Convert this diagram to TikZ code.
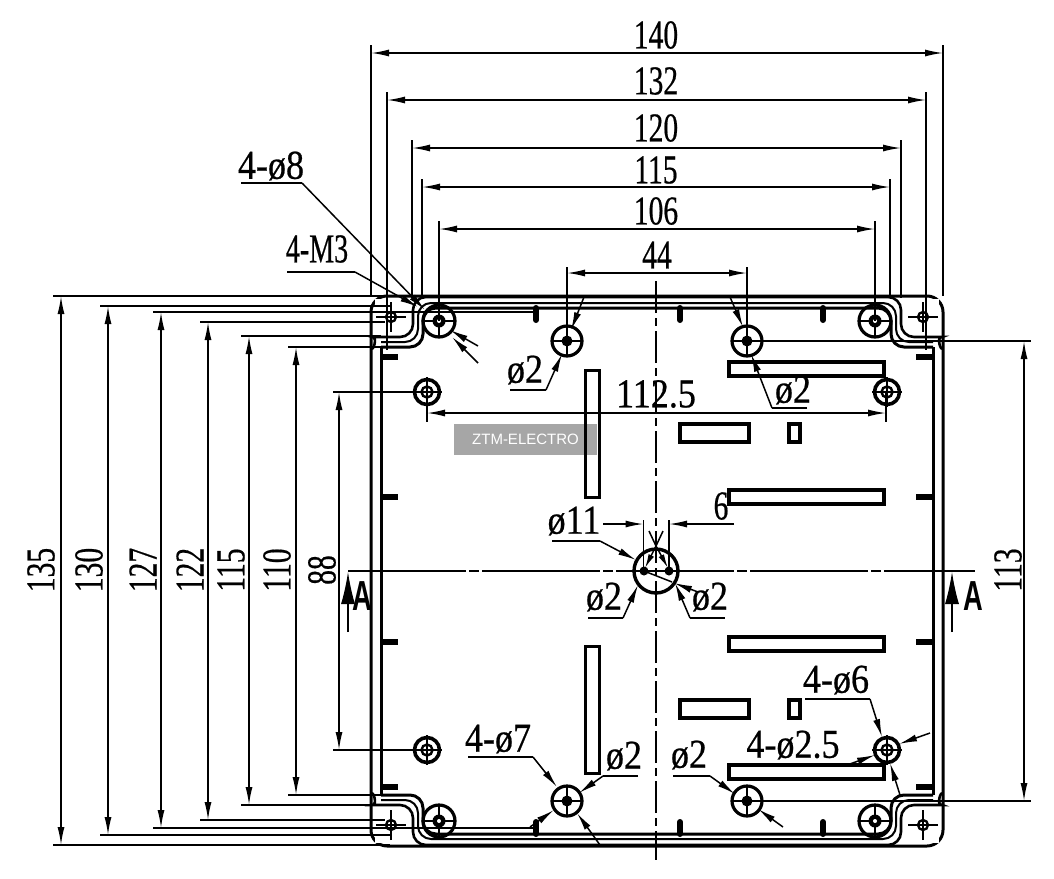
\documentclass[tikz,border=0pt]{standalone}
\usepackage{fontspec}
\setmainfont{Liberation Serif}
\newfontfamily\labelfont{Liberation Sans}
\newfontfamily\dimfont[FakeBold=0.6]{Liberation Serif}
\usetikzlibrary{arrows.meta}

\begin{document}
\begin{tikzpicture}[
  x=1pt, y=-1pt,
  every node/.style={inner sep=0pt},
  dimtext/.style={
  font=\dimfont\fontsize{41}{41}\selectfont,
  xscale=0.72},
  dimwide/.style={
  font=\dimfont\fontsize{41}{41}\selectfont,
  xscale=0.88},
  dimtextv/.style={
  font=\dimfont\fontsize{41}{41}\selectfont,
  rotate=90, xscale=0.72},
  dimline/.style={
  line width=1.5pt,
  {Latex[length=18pt, width=7pt]}-{Latex[length=18pt, width=7pt]}
  },
  extline/.style={
  line width=1.4pt
  },
  leader/.style={
  line width=1.5pt
  },
  leaderarrow/.style={
  line width=1.5pt,
  -{Latex[length=18pt, width=7pt]}
  },
  wall/.style={
  line width=3pt
  },
  lidline/.style={
  line width=2pt,
  rounded corners=13pt
  },
  slot/.style={
  draw,
  fill=white,
  line width=3.2pt
  },
  stub/.style={
  line width=6pt,
  line cap=round
  },
  center line/.style={
  line width=1.4pt,
  dash pattern=on 32pt off 5pt on 8pt off 5pt
  }]

	\useasboundingbox (0,0) rectangle (1054,878);

	% Watermark
	\node [fill=gray!70, text=white, minimum width=143pt, minimum height=31pt, font=\labelfont\fontsize{15}{15}\selectfont] at (525.5,439.5) (mark) {ZTM-ELECTRO};

	% Box
	\draw[wall, rounded corners=16pt] (371,296) rectangle (943,846);

	% Corners
	\foreach \sx in {-1,1} {
	\foreach \sy in {-1,1} {
	\begin{scope}[shift={(657,571)}, xscale=\sx, yscale=\sy]
		\fill[white] (-282,-234) rectangle (-246,-272);
		\draw[lidline, line width=2.6pt] (0,-274) -- (-244,-274) -- (-244,-234) -- (-272,-234) to[out=180, in=-90] (-285,-224);
		\draw[lidline] (0,-268) -- (-239,-268) -- (-239,-229) -- (-276,-229);
		\draw[lidline, line width=3pt] (0,-263) -- (-234,-263) -- (-234,-224) -- (-276,-224);
		\draw[wall] (-276,-224) -- (-276,0);
		% Corner hole
		\draw[line width=2.3pt] (-266,-254) circle (5);
		\draw[line width=0.9pt] (-266,-254) circle (1.5);
		\draw[line width=1.3pt] (-281,-254) -- (-251,-254) (-266,-269) -- (-266,-239);
		% Screw post
		\draw[line width=3.2pt] (-218,-250) circle (16);
		\draw[line width=1.2pt] (-234,-250) -- (-202,-250) (-218,-266) -- (-218,-234);
		\fill (-218,-250) circle (6.5);
		\fill[white] (-218,-250) circle (2);
		% Mount hole
		\draw[line width=3.6pt] (-230,-179) circle (12.5);
		\draw[line width=2.4pt] (-230,-179) circle (5.5);
		\draw[line width=0.8pt] (-230,-179) circle (1.5);
		\draw[line width=1.2pt] (-230,-194) -- (-230,-164) (-245,-179) -- (-215,-179);
		% Pin hole
		\draw[line width=3.2pt] (-90,-230) circle (15);
		\fill (-90,-230) circle (5.5);
		\draw[line width=1.4pt] (-105,-230) -- (-75,-230) (-90,-245) -- (-90,-215);
	\end{scope}
	}
	}

	% Slots
	\node [slot, fill=none, minimum width=14pt, minimum height=127pt, anchor=north west] at (584,369) (slot1) {};
	\node [slot, minimum width=14pt, minimum height=127pt, anchor=north west] at (584,645) (slot2) {};
	\foreach \yy in {362,490,637,765} \draw[slot] (729,\yy) rectangle (884,\yy+14);
	\foreach \yy in {424,700} {
	\draw[slot] (680,\yy) rectangle (749,\yy+18);
	\draw[slot] (789,\yy) rectangle (800,\yy+18);
	}

	% Stubs
	\foreach \xx in {536,680,823} {
	\draw[stub] (\xx,308) -- (\xx,320);
	\draw[stub] (\xx,834) -- (\xx,822);
	}
	\foreach \yy in {357,497,642,787} {
	\draw[stub, line cap=butt] (380,\yy) -- (398,\yy);
	\draw[stub, line cap=butt] (934,\yy) -- (916,\yy);
	}

	% Centre hole
	\draw[line width=3.4pt] (656,571) circle (22);
	\fill (644,571) circle (4.5);
	\fill (669,571) circle (4.5);

	% Centre lines
	\draw[center line] (656,281) -- (656,860);
	\draw[center line, dash pattern=on 118pt off 3pt on 10pt off 3pt] (348,571) -- (975,571);

	% Section marks
	\draw[line width=1.2pt, -{Latex[length=32pt, width=14pt]}] (348,632) -- (348,572);
	\draw[line width=1.2pt, -{Latex[length=32pt, width=14pt]}] (952,632) -- (952,572);
	\node [font=\labelfont\bfseries\fontsize{42}{42}\selectfont, xscale=0.65] at (362,596) (sectionL) {A};
	\node [font=\labelfont\bfseries\fontsize{42}{42}\selectfont, xscale=0.65] at (973,596) (sectionR) {A};

	% Top dimensions
	\foreach \val/\yy/\yt/\xa/\xb/\ye in {140/53/35/371/943/296, 132/100/81/387/926/350, 120/148/128/412/901/298, 115/187/170/422/890/298, 106/229/211/439/875/321} {
	\draw[extline] (\xa,\yy-8) -- (\xa,\ye);
	\draw[extline] (\xb,\yy-8) -- (\xb,\ye);
	\draw[dimline] (\xa,\yy) -- (\xb,\yy);
	\node [dimtext] at (656,\yt) (top\val) {\val};
	}
	\draw[extline] (567,267) -- (567,340);
	\draw[extline] (747,267) -- (747,340);
	\draw[dimline] (567,273) -- (747,273);
	\node [dimtext] at (657,255) (top44) {44};

	% Left dimensions
	\foreach \val/\xx/\xt/\ya/\yb/\xe/\xf in {135/61/41/296/845/390/390, 130/108/89/306/835/390/390, 127/161/143/312/828/533/533, 122/208/190/322/820/385/385, 115/249/231/336/805/381/381, 110/296/277/347/795/385/385} {
	\draw[extline] (\xx-8,\ya) -- (\xe,\ya);
	\draw[extline] (\xx-8,\yb) -- (\xf,\yb);
	\draw[dimline] (\xx,\ya) -- (\xx,\yb);
	\node [dimtextv] at (\xt,570) (left\val) {\val};
	}
	\draw[extline] (333,392) -- (414,392);
	\draw[extline] (333,750) -- (414,750);
	\draw[dimline] (339,392) -- (339,750);
	\node [dimtextv] at (322,570) (left88) {88};

	% Right dimension
	\draw[extline] (747,341) -- (1031,341);
	\draw[extline] (746,801) -- (1031,801);
	\draw[dimline] (1024,341) -- (1024,801);
	\node [dimtextv] at (1008,570) (right113) {113};

	% Width between mount holes
	\draw[extline] (427,391) -- (427,422);
	\draw[extline] (886,391) -- (886,422);
	\draw[dimline] (427,413) -- (886,413);
	\node [dimwide] at (656,394) (mid112) {112.5};

	% Top left callouts
	\node [dimwide] at (271,166) (d8) {4-ø8};
	\draw[leader] (241,183) -- (302,183);
	\draw[leaderarrow] (302,183) -- (425,310);
	\node [dimtext, xscale=0.95] at (317,249) (m3) {4-M3};
	\draw[leader] (287,272) -- (355,272);
	\draw[leaderarrow] (355,272) -- (418,307);
	\draw[leaderarrow] (478,346) -- (450,330);
	\draw[leaderarrow] (478,363) -- (452,337);

	% Top pin holes
	\node [dimwide] at (525,370) (pinA) {ø2};
	\draw[leader] (510,390) -- (546,390);
	\draw[leaderarrow] (546,390) -- (562,354);
	\draw[leaderarrow] (584,297) -- (571,330);
	\node [dimwide] at (793,390) (pinB) {ø2};
	\draw[leader] (807,408) -- (772,408);
	\draw[leaderarrow] (772,408) -- (751,354);
	\draw[leaderarrow] (730,297) -- (743,327);

	% Centre callouts
	\node [dimwide] at (574,521) (d11) {ø11};
	\draw[leader] (552,541) -- (600,541);
	\draw[leaderarrow] (600,541) -- (636,560);
	\node [dimtext] at (721,506) (w6) {6};
	\draw[extline] (643.5,520) -- (643.5,571);
	\draw[extline] (669,520) -- (669,571);
	\draw[leaderarrow] (603,524) -- (643.5,524);
	\draw[leaderarrow] (734,524) -- (669,524);
	\draw[leader] (649,531) -- (656,546) -- (663,531);
	\draw[leaderarrow, -{Latex[length=14pt, width=6pt]}] (656,546) -- (645,568);
	\draw[leaderarrow, -{Latex[length=14pt, width=6pt]}] (656,546) -- (668,568);
	\node [dimwide] at (604,597) (pinC) {ø2};
	\draw[leader] (588,618) -- (623,618);
	\draw[leaderarrow] (623,618) -- (638,585);
	\node [dimwide] at (710,597) (pinD) {ø2};
	\draw[leader] (690,618) -- (725,618);
	\draw[leaderarrow] (690,618) -- (675,583);
	\draw[leader] (644,571) -- (672,582);
	\draw[leaderarrow] (698,592) -- (674,583);

	% Bottom left pin hole
	\node [dimwide] at (498,739) (d7) {4-ø7};
	\draw[leader] (468,757) -- (533,757);
	\draw[leaderarrow] (533,757) -- (557,787);
	\node [dimwide] at (624,756) (pinE) {ø2};
	\draw[leader] (638,776) -- (603,776);
	\draw[leaderarrow] (603,776) -- (579,793);
	\draw[leaderarrow] (530,827) -- (554,810);
	\draw[leaderarrow] (600,845) -- (577,813);

	% Bottom right pin hole
	\node [dimwide] at (689,755) (pinF) {ø2};
	\draw[leader] (673,776) -- (710,776);
	\draw[leaderarrow] (710,776) -- (735,794);
	\draw[leaderarrow] (783,827) -- (758,809);

	% Bottom right mount hole
	\node [dimwide] at (836,680) (d6) {4-ø6};
	\draw[leader] (805,699) -- (870,699);
	\draw[leaderarrow] (870,699) -- (882,737);
	\draw[leaderarrow] (930,733) -- (899,744);
	\node [dimwide] at (793,745) (d25) {4-ø2.5};
	\draw[leaderarrow] (847,765) -- (875,755);
	\draw[leaderarrow] (900,795) -- (890,763);

\end{tikzpicture}
\end{document}
